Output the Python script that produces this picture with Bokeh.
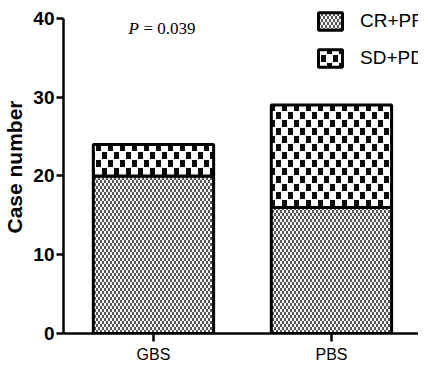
import base64
import struct
import zlib

from bokeh.core.properties import value
from bokeh.embed import file_html
from bokeh.models import (ColumnDataSource, FixedTicker, ImageURLTexture, Label,
                          Legend, LegendItem)
from bokeh.plotting import figure
from bokeh.resources import INLINE

# ---- data ----
groups = ["GBS", "PBS"]
group_pos = [1, 2]
cr_pr = [20, 16]
sd_pd = [4, 13]
series_names = ["CR+PR", "SD+PD"]
y_ticks = [0, 10, 20, 30, 40]
p_text = "P"
p_value_text = "= 0.039"


def png_url(w, h, fn):
    raw = b""
    for y in range(h):
        raw += b"\x00" + b"".join(bytes(fn(x, y)) for x in range(w))

    def chunk(tag, data):
        c = struct.pack(">I", len(data)) + tag + data
        return c + struct.pack(">I", zlib.crc32(tag + data) & 0xFFFFFFFF)

    png = b"\x89PNG\r\n\x1a\n"
    png += chunk(b"IHDR", struct.pack(">IIBBBBB", w, h, 8, 2, 0, 0, 0))
    png += chunk(b"IDAT", zlib.compress(raw))
    png += chunk(b"IEND", b"")
    return "data:image/png;base64," + base64.b64encode(png).decode()


def fine(x, y):
    return (85, 85, 85) if ((x // 2) + (y // 3)) % 2 == 0 else (245, 245, 245)


def coarse(x, y):
    if (x < 5 and y < 7) or (6 <= x < 11 and 8 <= y < 15):
        return (10, 10, 10)
    return (255, 255, 255)


fine_tex = ImageURLTexture(url=png_url(4, 6, fine), repetition="repeat")
coarse_tex = ImageURLTexture(url=png_url(12, 16, coarse), repetition="repeat")

tops1 = cr_pr
tops2 = [a + b for a, b in zip(cr_pr, sd_pd)]
src = ColumnDataSource(dict(x=group_pos, b1=[0] * len(cr_pr), t1=tops1, b2=tops1, t2=tops2))

p = figure(width=418, height=365, output_backend="svg", toolbar_location=None,
           x_range=(0.4945, 2.489), y_range=(0, 42.28),
           min_border_left=55, min_border_right=0, min_border_top=0, min_border_bottom=31)
p.outline_line_color = None
p.xgrid.grid_line_color = None
p.ygrid.grid_line_color = None
p.background_fill_color = "white"
p.border_fill_color = "white"

r1 = p.vbar(x="x", bottom="b1", top="t1", width=0.676, source=src,
            fill_color="white", line_color="black", line_width=3,
            hatch_pattern=value("fine"), hatch_extra={"fine": fine_tex})
r2 = p.vbar(x="x", bottom="b2", top="t2", width=0.676, source=src,
            fill_color="white", line_color="black", line_width=3,
            hatch_pattern=value("coarse"), hatch_extra={"coarse": coarse_tex})

sans = "Liberation Sans"

# y axis
ya = p.yaxis[0]
ya.ticker = FixedTicker(ticks=y_ticks)
ya.bounds = (0, 40)
ya.axis_line_width = 2.5
ya.major_tick_line_width = 2.5
ya.major_tick_out = 7
ya.major_tick_in = 0
ya.minor_tick_line_color = None
ya.major_label_text_font = sans
ya.major_label_text_font_style = "bold"
ya.major_label_text_font_size = "19px"
ya.major_label_text_color = "black"
ya.major_label_standoff = 2
ya.axis_label = "Case number"
ya.axis_label_text_font = sans
ya.axis_label_text_font_style = "bold"
ya.axis_label_text_font_size = "21px"
ya.axis_label_text_color = "black"
ya.axis_label_standoff = 4

# x axis
xa = p.xaxis[0]
xa.ticker = FixedTicker(ticks=group_pos)
xa.major_label_overrides = {k: v for k, v in zip(group_pos, groups)}
xa.axis_line_width = 2.5
xa.major_tick_line_width = 2.5
xa.major_tick_out = 8
xa.major_tick_in = 0
xa.minor_tick_line_color = None
xa.major_label_text_font = sans
xa.major_label_text_font_size = "16px"
xa.major_label_text_color = "black"
xa.major_label_standoff = 4

# legend
legend = Legend(items=[LegendItem(label=series_names[0], renderers=[r1]),
                       LegendItem(label=series_names[1], renderers=[r2])],
                location=(252, 264), padding=0, margin=0, spacing=15,
                glyph_width=30, glyph_height=22, label_height=22,
                label_standoff=15, border_line_alpha=0, background_fill_alpha=0,
                label_text_font=sans, label_text_font_size="19px",
                label_text_color="black")
p.add_layout(legend)

# P value annotation
p.add_layout(Label(x=65, y=305, x_units="screen", y_units="screen", text=p_text,
                   text_font="Liberation Serif", text_font_style="italic",
                   text_font_size="17px", text_baseline="middle", text_color="black"))
p.add_layout(Label(x=80, y=305, x_units="screen", y_units="screen", text=p_value_text,
                   text_font="Liberation Serif",
                   text_font_size="17px", text_baseline="middle", text_color="black"))

open("out.html", "w").write(file_html(p, INLINE))
